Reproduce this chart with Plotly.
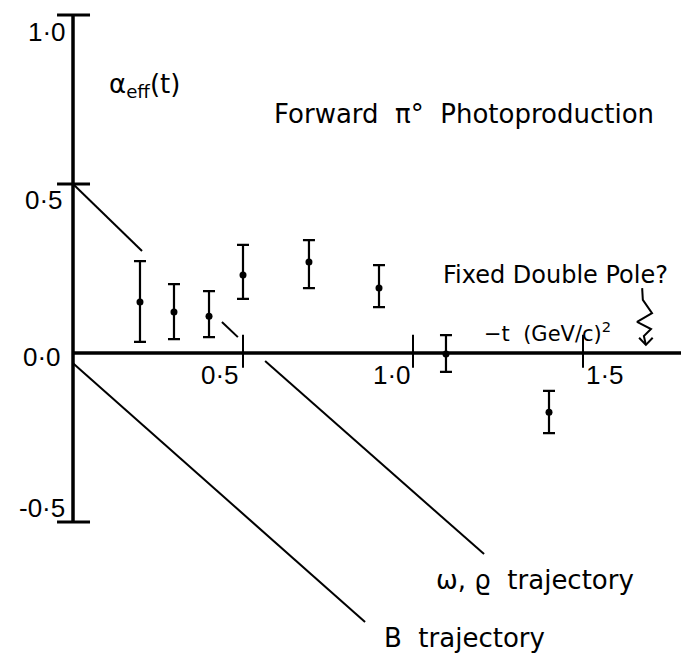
import plotly.graph_objects as go

# ---- data ----
t_vals = [0.197, 0.297, 0.400, 0.500, 0.694, 0.900, 1.097, 1.400]
alpha_eff = [0.151, 0.121, 0.109, 0.231, 0.269, 0.192, -0.003, -0.175]
alpha_hi = [0.272, 0.204, 0.183, 0.320, 0.334, 0.260, 0.053, -0.112]
alpha_lo = [0.033, 0.041, 0.047, 0.160, 0.192, 0.136, -0.056, -0.237]

# omega, rho trajectory (drawn in pieces, interrupted around the data)
omega_rho_t = [[0.0, 0.203], [0.438, 0.485], [0.565, 1.209]]
omega_rho_alpha = [[0.50, 0.302], [0.092, 0.047], [-0.024, -0.595]]

# B trajectory
b_t = [0.0, 0.859]
b_alpha = [-0.030, -0.796]

# "Fixed double pole?" squiggly arrow
squig_t = [1.674, 1.676, 1.703, 1.659, 1.700, 1.679, 1.685]
squig_a = [0.192, 0.157, 0.118, 0.092, 0.071, 0.050, 0.024]
head_t = [1.665, 1.685, 1.705]
head_a = [0.045, 0.024, 0.045]

y_ticks = [-0.5, 0.5, 1.0]
y_tick_labels = ["-0·5", "0·5", "1·0"]
x_ticks = [0.5, 1.0, 1.5]
x_tick_labels = ["0·5", "1·0", "1·5"]
x_axis_end = 1.79
y_axis_min, y_axis_max = -0.5, 1.0

FONT = "DejaVu Sans"
TICKFONT = "Liberation Sans"

fig = go.Figure()

# trajectories
for tt, aa in zip(omega_rho_t, omega_rho_alpha):
    fig.add_trace(go.Scatter(x=tt, y=aa, mode="lines",
                             line=dict(color="black", width=2), hoverinfo="skip"))
fig.add_trace(go.Scatter(x=b_t, y=b_alpha, mode="lines",
                         line=dict(color="black", width=2), hoverinfo="skip"))

# squiggle arrow
fig.add_trace(go.Scatter(x=squig_t, y=squig_a, mode="lines",
                         line=dict(color="black", width=2), hoverinfo="skip"))
fig.add_trace(go.Scatter(x=head_t, y=head_a, mode="lines",
                         line=dict(color="black", width=2), hoverinfo="skip"))

# data points with asymmetric errors
err_plus = [h - a for h, a in zip(alpha_hi, alpha_eff)]
err_minus = [a - l for a, l in zip(alpha_eff, alpha_lo)]
fig.add_trace(go.Scatter(
    x=t_vals, y=alpha_eff, mode="markers",
    marker=dict(color="black", size=7),
    error_y=dict(type="data", symmetric=False, array=err_plus,
                 arrayminus=err_minus, color="black", thickness=2.2, width=6),
))

shapes = []
# axis lines
shapes.append(dict(type="line", xref="x", yref="y", x0=0, x1=0,
                   y0=y_axis_min, y1=y_axis_max, line=dict(color="black", width=3.5)))
shapes.append(dict(type="line", xref="x", yref="y", x0=0, x1=x_axis_end,
                   y0=0, y1=0, line=dict(color="black", width=3.5)))
# y ticks
for yv in y_ticks:
    shapes.append(dict(type="line", xref="x", yref="y", x0=-0.047, x1=0.05,
                       y0=yv, y1=yv, line=dict(color="black", width=3)))
# x ticks
for xv in x_ticks:
    shapes.append(dict(type="line", xref="x", yref="y", x0=xv, x1=xv,
                       y0=0.054, y1=-0.044, line=dict(color="black", width=2)))

annotations = []
# y tick labels
ylab_pos = {1.0: (-0.015, 0.950), 0.5: (-0.024, 0.452), -0.5: (-0.018, -0.459)}
for yv, lab in zip(y_ticks, y_tick_labels):
    px, py = ylab_pos[yv]
    annotations.append(dict(x=px, y=py, xref="x", yref="y", text=lab,
                            showarrow=False, xanchor="right", yanchor="middle",
                            font=dict(family=TICKFONT, size=26, color="black")))
annotations.append(dict(x=-0.030, y=-0.012, xref="x", yref="y", text="0·0",
                        showarrow=False, xanchor="right", yanchor="middle",
                        font=dict(family=TICKFONT, size=26, color="black")))
# x tick labels
xlab_pos = {0.5: (0.432, -0.064), 1.0: (0.938, -0.066), 1.5: (1.565, -0.066)}
for xv, lab in zip(x_ticks, x_tick_labels):
    px, py = xlab_pos[xv]
    annotations.append(dict(x=px, y=py, xref="x", yref="y", text=lab,
                            showarrow=False, xanchor="center", yanchor="middle",
                            font=dict(family=TICKFONT, size=26, color="black")))

texts = [
    ("α<sub>eff</sub>(t)", 0.209, 0.790, 26),
    ("Forward  π°  Photoproduction", 1.150, 0.707, 26),
    ("Fixed Double Pole?", 1.418, 0.231, 24),
    ("−t  (GeV/c)<sup>2</sup>", 1.397, 0.062, 21),
    ("ω, ϱ  trajectory", 1.359, -0.672, 26),
    ("B  trajectory", 1.150, -0.843, 26),
]
for txt, px, py, sz in texts:
    annotations.append(dict(x=px, y=py, xref="x", yref="y", text=txt,
                            showarrow=False, xanchor="center", yanchor="middle",
                            font=dict(family=FONT, size=sz, color="black")))

# the page places the figure 8 px in from the top-left corner; ranges allow for it
fig.update_layout(
    width=689, height=656,
    margin=dict(l=0, r=0, t=0, b=0),
    paper_bgcolor="white", plot_bgcolor="white",
    showlegend=False,
    xaxis=dict(range=[-0.1912, 1.8353], visible=False, fixedrange=True),
    yaxis=dict(range=[-0.9201, 1.0207], visible=False, fixedrange=True),
    shapes=shapes, annotations=annotations,
)

fig.write_html("out.html")
